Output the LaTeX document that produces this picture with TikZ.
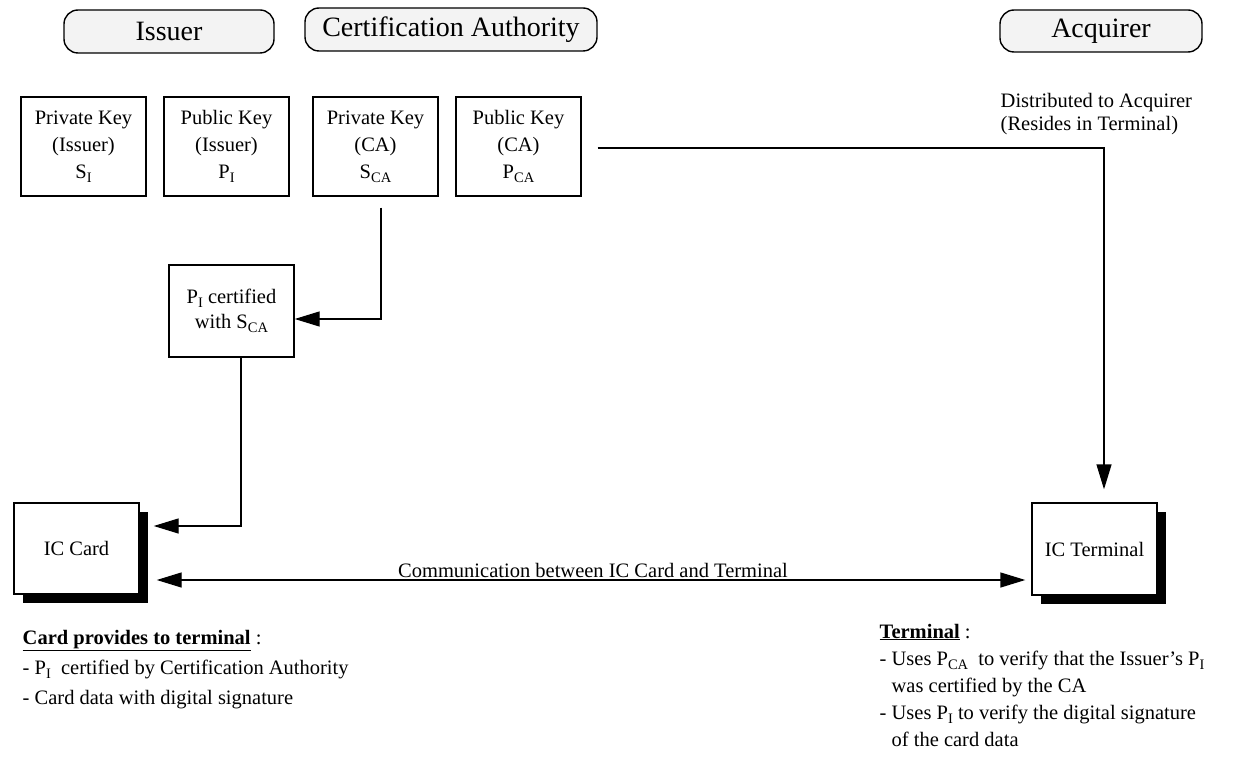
\documentclass[tikz,border=0pt]{standalone}
\usepackage{fontspec}
\setmainfont{Liberation Serif}
\usetikzlibrary{arrows.meta,calc,shadows}
\definecolor{headfill}{RGB}{243,243,243}
\newcommand\mysub[1]{\raisebox{-4pt}{\fontsize{14.5}{14.5}\selectfont #1}}
\begin{document}
\begin{tikzpicture}[x=1pt,y=-1pt,
  font=\fontsize{20.5}{27}\selectfont,
  line width=1.4pt,
  headbox/.style={draw, fill=headfill, rounded corners=14pt, line width=1.4pt,
    inner sep=0pt, font=\fontsize{28}{32}\selectfont},
  keybox/.style={draw, line width=1.4pt, minimum width=125pt, minimum height=99pt,
    align=center, inner sep=0pt},
  shadowbox/.style={draw, fill=white, line width=1.4pt, minimum width=125pt,
    minimum height=91pt, align=center, inner sep=0pt,
    drop shadow={shadow xshift=9pt, shadow yshift=-9pt, fill=black, opacity=1}},
  arr/.style={-{Triangle[length=25pt,width=15pt]}},
  darr/.style={{Triangle[length=25pt,width=15pt]}-{Triangle[length=25pt,width=15pt]}},
  txt/.style={align=left, inner sep=0pt}
]
\useasboundingbox (0,0) rectangle (1246,767);

% header boxes
\node[headbox, minimum width=210pt, minimum height=43pt] (issuer) at (169,31.5) {Issuer};
\node[headbox, minimum width=292pt, minimum height=43pt] (ca) at (451,29.5) {Certification Authority};
\node[headbox, minimum width=202pt, minimum height=42pt] (acq) at (1101,31) {Acquirer};

% key boxes
\node[keybox] (si) at (83.5,146.5) {Private Key\\(Issuer)\\S\mysub{I}};
\node[keybox] (pi) at (226.5,146.5) {Public Key\\(Issuer)\\P\mysub{I}};
\node[keybox] (sca) at (375.5,146.5) {Private Key\\(CA)\\S\mysub{CA}};
\node[keybox] (pca) at (518.5,146.5) {Public Key\\(CA)\\P\mysub{CA}};

% certified box
\node[keybox, minimum height=92pt, font=\fontsize{20.5}{25}\selectfont] (cert) at (231.5,311)
  {P\mysub{I} certified\\with S\mysub{CA}};

% card and terminal
\node[shadowbox] (card) at (76.5,548.5) {IC Card};
\node[shadowbox, minimum height=92pt] (term) at (1094.5,549) {IC Terminal};

% connectors
\draw[arr] ($(sca.south)+(5.5,11)$) |- ($(cert.east)+(0,8)$);
\draw[arr] ($(cert.south)+(9.5,0)$) |- ($(card.east)+(14,-22.5)$);
\draw[darr] ($(card.east)+(17,31.5)$) -- node[above=2pt, inner sep=0pt, xshift=2pt] (commlbl)
  {Communication between IC Card and Terminal} ($(term.west)+(-6,31)$);
\draw[arr] ($(pca.east)+(16,1.5)$) -| ($(term.north)+(9.5,-13)$);

% labels
\node[txt, anchor=west, font=\fontsize{20.5}{23}\selectfont] (dist) at (1000,114)
  {Distributed to Acquirer\\(Resides in Terminal)};

\node[txt, anchor=west, font=\fontsize{20.5}{30}\selectfont] (cardtxt) at (22,670)
  {\underline{\textbf{Card provides to terminal}} :\\
   - P\mysub{I}\ \ certified by Certification Authority\\
   - Card data with digital signature};

\node[txt, anchor=west] (termtxt) at (879,685)
  {\underline{\textbf{Terminal}} :\\
   - Uses P\mysub{CA}\ \ to verify that the Issuer’s P\mysub{I}\\
   \hphantom{- }was certified by the CA\\
   - Uses P\mysub{I} to verify the digital signature\\
   \hphantom{- }of the card data};
\end{tikzpicture}
\end{document}
